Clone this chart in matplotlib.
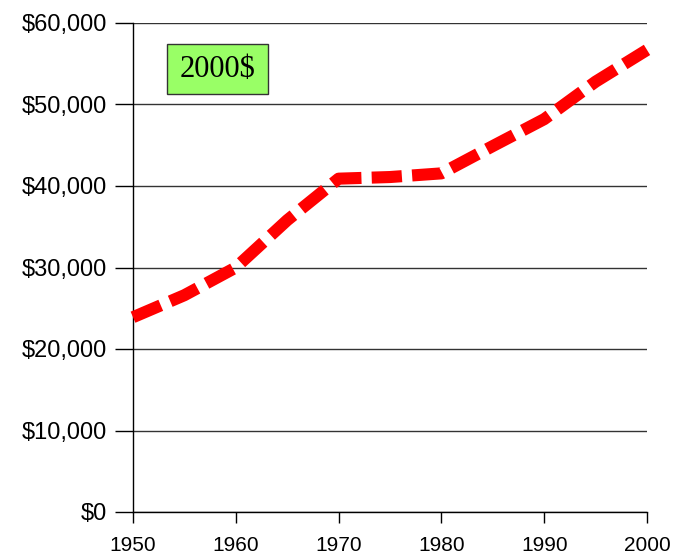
import matplotlib.pyplot as plt
from matplotlib.patches import Rectangle
from matplotlib.ticker import FuncFormatter

# income in constant 2000 dollars, read every 5 years off the chart
years = [1950, 1955, 1960, 1965, 1970, 1975, 1980, 1985, 1990, 1995, 2000]
income = [23900, 26600, 30000, 35800, 40900, 41100, 41550, 44900, 48200, 52800, 56700]

x_ticks = [1950, 1960, 1970, 1980, 1990, 2000]
y_ticks = [0, 10000, 20000, 30000, 40000, 50000, 60000]
box_label = '2000$'

plt.rcParams['font.family'] = ['Liberation Sans', 'DejaVu Sans']

fig = plt.figure(figsize=(6.73, 5.6), dpi=100)
ax = fig.add_axes([133 / 673, 1 - 512 / 560, (647 - 133) / 673, (512 - 23) / 560])

ax.plot(years, income, color='#ff0000', linewidth=8.7,
        linestyle=(0, (2.5, 0.85)), dash_capstyle='butt', dash_joinstyle='round',
        clip_on=False, zorder=3)

ax.set_xlim(1950, 2000)
ax.set_ylim(0, 60000)
ax.set_xticks(x_ticks)
ax.set_yticks(y_ticks)
ax.yaxis.set_major_formatter(FuncFormatter(lambda v, p: '$' + format(int(v), ',')))
ax.grid(axis='y', color='#333333', linewidth=1)
ax.set_axisbelow(True)

for s in ['top', 'right']:
    ax.spines[s].set_visible(False)
for s in ['left', 'bottom']:
    ax.spines[s].set_color('black')
    ax.spines[s].set_linewidth(1)

ax.tick_params(axis='x', direction='out', length=8, width=1, labelsize=15, pad=9)
ax.tick_params(axis='y', direction='out', length=13, width=1, labelsize=17, pad=6)

# green label box in the upper left
ax.add_patch(Rectangle((0.066, 0.855), 0.197, 0.102, transform=ax.transAxes,
                       facecolor='#99ff66', edgecolor='#333333', linewidth=1, zorder=4))
ax.text(0.1645, 0.905, box_label, transform=ax.transAxes, fontsize=22,
        family=['Liberation Serif', 'DejaVu Serif'], ha='center', va='center', zorder=5)

fig.savefig('out.png', dpi=100)
